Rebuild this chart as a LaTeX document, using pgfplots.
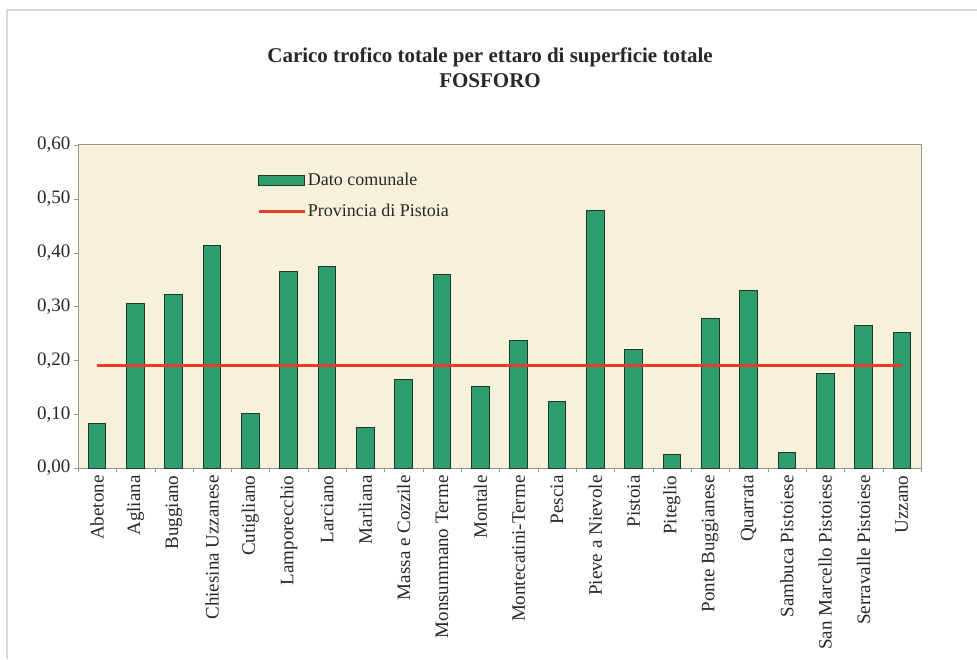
\documentclass[border=0pt]{standalone}
\usepackage{pgfplots}
\pgfplotsset{compat=1.18}
\usepackage{fontspec}
\setmainfont{Liberation Serif}
\definecolor{barg}{RGB}{46,156,110}
\definecolor{bard}{RGB}{30,58,44}
\definecolor{bgbeige}{RGB}{247,241,217}
\definecolor{provred}{RGB}{232,60,40}
\definecolor{framegr}{RGB}{150,150,150}
\definecolor{txt}{RGB}{40,40,40}
\pgfplotsset{
  mybarlegend/.style={legend image code/.code={\draw[##1] (0pt,-5pt) rectangle (46pt,5pt);}},
  mylinelegend/.style={legend image code/.code={\draw[##1, line width=2.5pt] (0pt,0pt) -- (46pt,0pt);}},
}
\begin{document}
\begin{tikzpicture}
\useasboundingbox (0pt,0pt) rectangle (977pt,659pt);
\draw[black!15, line width=1.5pt] (7pt,0pt) -- (7pt,649pt) -- (977pt,649pt);
\node[font=\bfseries\fontsize{21}{25}\selectfont, align=center, text=txt] at (490pt,591pt) {Carico trofico totale per ettaro di superficie totale\\FOSFORO};
\begin{axis}[
  at={(78pt,191pt)}, anchor=south west,
  width=843pt, height=323pt, scale only axis,
  xmin=-0.5, xmax=21.5, ymin=0, ymax=0.6,
  axis background/.style={fill=bgbeige},
  axis line style={framegr, line width=1pt},
  ytick={0,0.1,0.2,0.3,0.4,0.5,0.6},
  yticklabel style={/pgf/number format/.cd, fixed, fixed zerofill, precision=2, use comma, assume math mode=true},
  tick label style={font=\fontsize{19}{21}\selectfont, text=txt},
  xtick={0,...,21},
  xticklabels={Abetone,Agliana,Buggiano,Chiesina Uzzanese,Cutigliano,Lamporecchio,Larciano,Marliana,Massa e Cozzile,Monsummano Terme,Montale,Montecatini-Terme,Pescia,Pieve a Nievole,Pistoia,Piteglio,Ponte Buggianese,Quarrata,Sambuca Pistoiese,San Marcello Pistoiese,Serravalle Pistoiese,Uzzano},
  xticklabel style={rotate=90, anchor=east},
  major x tick style={draw=none},
  minor xtick={-0.5,0.5,...,21.5},
  minor tick length=4pt,
  major tick length=4pt,
  tick align=outside,
  tick style={framegr},
  xtick pos=bottom, ytick pos=left,
  legend style={at={(0.209,0.925)}, anchor=north west, draw=none, fill=none,
    font=\fontsize{18}{20}\selectfont, text=txt, row sep=13pt, cells={anchor=west}},
  legend cell align=left,
]
\addplot[ybar, bar width=0.46, fill=barg, draw=bard, line width=1pt, mybarlegend]
  coordinates {
  (0,0.083) (1,0.305) (2,0.322) (3,0.413) (4,0.101) (5,0.365) (6,0.375)
  (7,0.075) (8,0.165) (9,0.359) (10,0.152) (11,0.236) (12,0.124) (13,0.479)
  (14,0.221) (15,0.025) (16,0.277) (17,0.330) (18,0.029) (19,0.176)
  (20,0.264) (21,0.252)};
\addlegendentry{Dato comunale}
\addplot[provred, line width=3.5pt, mark=none, mylinelegend]
  coordinates {(0,0.19) (21,0.19)};
\addlegendentry{Provincia di Pistoia}
\end{axis}
\end{tikzpicture}
\end{document}
